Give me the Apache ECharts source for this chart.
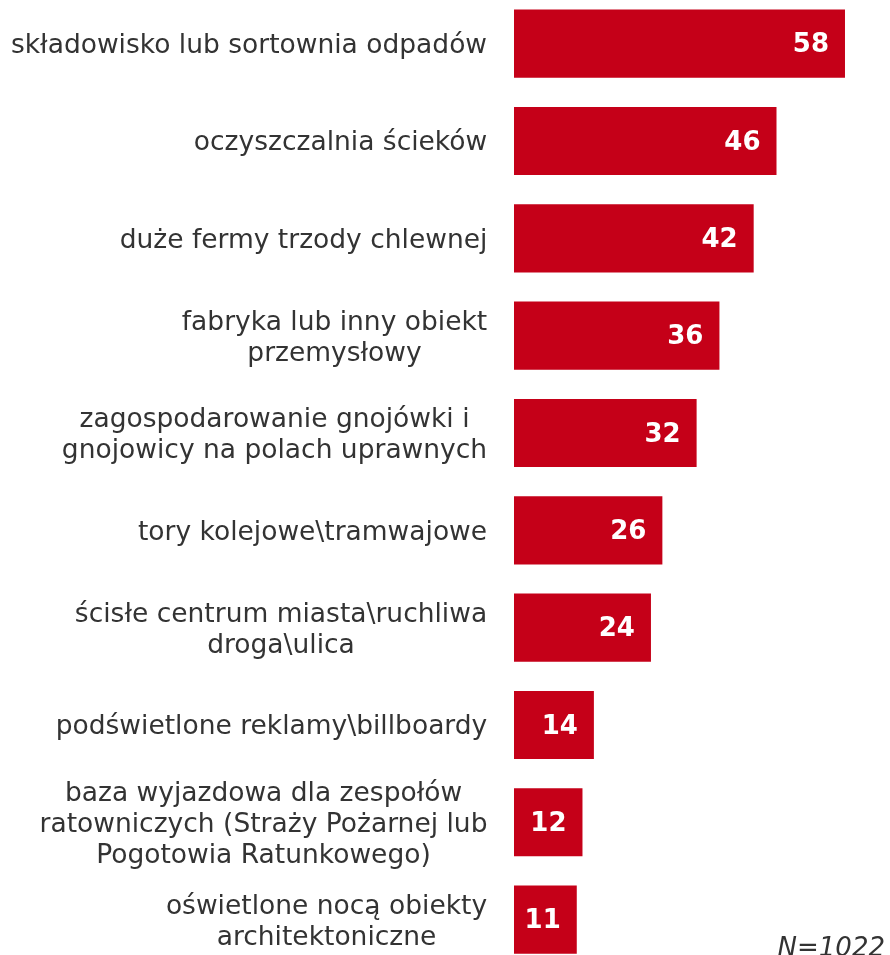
<!DOCTYPE html>
<html>
<head>
<meta charset="utf-8">
<script src="https://cdn.jsdelivr.net/npm/echarts@6/dist/echarts.min.js"></script>
<style>
html,body{margin:0;padding:0;background:#fff;width:890px;height:955px;overflow:hidden;}
#chart{position:absolute;left:0;top:-4.67px;width:890px;height:974px;}
</style>
</head>
<body>
<div id="chart"></div>
<script>
const categories = [
  'składowisko lub sortownia odpadów',
  'oczyszczalnia ścieków',
  'duże fermy trzody chlewnej',
  'fabryka lub inny obiekt\nprzemysłowy',
  'zagospodarowanie gnojówki i\ngnojowicy na polach uprawnych',
  'tory kolejowe\\tramwajowe',
  'ścisłe centrum miasta\\ruchliwa\ndroga\\ulica',
  'podświetlone reklamy\\billboardy',
  'baza wyjazdowa dla zespołów\nratowniczych (Straży Pożarnej lub\nPogotowia Ratunkowego)',
  'oświetlone nocą obiekty\narchitektoniczne'
];
const values = [58, 46, 42, 36, 32, 26, 24, 14, 12, 11];
const note = 'N=1022';

const FONT = '"DejaVu Sans", Verdana, sans-serif';
const LABEL_SIZE = 26.5;
const canvas = document.createElement('canvas');
const ctx = canvas.getContext('2d');
ctx.font = LABEL_SIZE + 'px ' + FONT;
const rich = {};
categories.forEach((c, i) => {
  const w = Math.max(...c.split('\n').map(s => ctx.measureText(s).width));
  rich['l' + i] = {
    width: Math.ceil(w) + 1,
    align: 'center',
    fontSize: LABEL_SIZE,
    fontFamily: FONT,
    color: '#333333',
    lineHeight: 31
  };
});

const chart = echarts.init(document.getElementById('chart'));
chart.setOption({
  animation: false,
  grid: { left: 514, top: 0, height: 973.3, width: 342.4, containLabel: false },
  xAxis: { type: 'value', min: 0, max: 60, show: false },
  yAxis: {
    type: 'category',
    inverse: true,
    data: categories,
    axisLine: { show: false },
    axisTick: { show: false },
    splitLine: { show: false },
    axisLabel: {
      margin: 26,
      align: 'right',
      padding: [5, 0, 0, 0],
      formatter: (v, idx) => v.split('\n').map(s => '{l' + idx + '|' + s + '}').join('\n'),
      rich: rich
    }
  },
  series: [{
    type: 'bar',
    data: values,
    barCategoryGap: '30%',
    itemStyle: { color: '#c50018' },
    label: {
      show: true,
      position: 'insideRight',
      distance: 16,
      offset: [0, 2],
      color: '#ffffff',
      fontWeight: 'bold',
      fontSize: 26,
      fontFamily: FONT
    }
  }],
  graphic: [{
    type: 'text',
    x: 885,
    y: 954.7,
    style: {
      text: note,
      fontSize: 26,
      fontStyle: 'italic',
      fontFamily: FONT,
      fill: '#333333',
      align: 'right',
      verticalAlign: 'middle'
    }
  }]
});
</script>
</body>
</html>
